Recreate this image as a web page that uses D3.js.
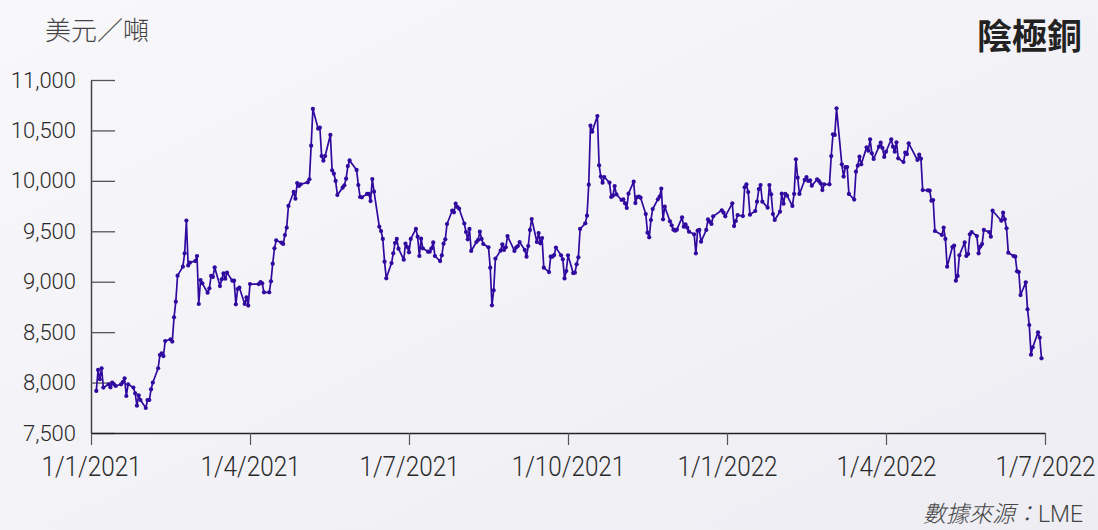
<!DOCTYPE html>
<html>
<head>
<meta charset="utf-8">
<script src="https://cdn.jsdelivr.net/npm/d3@7"></script>
<style>
  html, body { margin: 0; padding: 0; background: #f4f3f7; }
  svg { display: block; }
  .tick text { font-family: Roboto, "Liberation Sans", sans-serif; font-weight: 300; fill: #2a2a2a; }
  .cjk { font-family: "Noto Sans CJK TC", "Noto Sans CJK SC", sans-serif; }
</style>
</head>
<body>
<svg id="chart" width="1098" height="530"></svg>
<script>
// LME cathode copper, cash price (USD/tonne), one value per trading day from 4 Jan 2021
const prices = [
  7917, 8125, 8033, 8142, 7950, 7983, 7953, 8000, 7983, 7966, 7983, 8005, 8042, 7867, 7983, 7950, 7894, 7771, 7874, 7827,
  7748, 7827, 7827, 7933, 8000, 8142, 8273, 8290, 8263, 8412, 8429, 8406, 8647, 8802, 9060, 9149, 9282, 9606, 9162, 9189,
  9205, 9255, 8779, 9017, 8984, 8891, 8934, 9057, 9047, 9143, 8957, 9024, 9083, 9030, 9090, 9010, 9010, 8776, 8928, 8941,
  8779, 8845, 8763, 8977, 8977, 8997, 8984, 8895, 8895, 9004, 9179, 9331, 9410, 9387, 9374, 9463, 9536, 9751, 9890, 9823,
  9979, 9949, 9966, 9985, 10015, 10349, 10713, 10518, 10527, 10246, 10200, 10246, 10455, 10104, 10071, 9999, 9860, 9932, 9956, 10022,
  10147, 10203, 10108, 9959, 9840, 9837, 9870, 9870, 9800, 10018, 9893, 9546, 9503, 9424, 9199, 9034, 9185, 9281, 9384, 9424,
  9328, 9219, 9377, 9344, 9291, 9424, 9523, 9447, 9255, 9427, 9331, 9298, 9298, 9331, 9390, 9255, 9205, 9262, 9377, 9420,
  9572, 9704, 9688, 9774, 9741, 9724, 9576, 9493, 9420, 9523, 9305, 9394, 9414, 9496, 9424, 9374, 9341, 9139, 8766, 8915,
  9229, 9308, 9371, 9315, 9341, 9453, 9305, 9338, 9354, 9394, 9315, 9248, 9354, 9513, 9622, 9394, 9483, 9381, 9433, 9139,
  9096, 9248, 9248, 9265, 9338, 9262, 9222, 9033, 9106, 9262, 9086, 9090, 9172, 9242, 9523, 9579, 9655, 9962, 10547, 10488,
  10643, 10154, 10042, 9982, 10038, 9982, 9840, 9853, 9949, 9866, 9810, 9817, 9777, 9731, 9873, 9992, 9780, 9840, 9843, 9833,
  9671, 9486, 9440, 9612, 9721, 9817, 9843, 9923, 9619, 9744, 9599, 9559, 9516, 9506, 9516, 9638, 9546, 9569, 9536, 9496,
  9470, 9281, 9506, 9513, 9397, 9513, 9618, 9595, 9572, 9648, 9708, 9685, 9648, 9777, 9552, 9602, 9661, 9651, 9936, 9966,
  9889, 9665, 9701, 9794, 9919, 9959, 9794, 9734, 9959, 9866, 9671, 9612, 9694, 9873, 9774, 9870, 9853, 9751, 9870, 10213,
  10032, 9870, 10009, 10038, 9999, 10005, 9952, 10015, 9999, 9976, 9909, 9966, 9966, 10246, 10461, 10455, 10719, 10164, 10042, 10137,
  10137, 9870, 9814, 10091, 10151, 10240, 10164, 10332, 10299, 10412, 10273, 10217, 10339, 10379, 10326, 10237, 10289, 10412, 10339, 10289,
  10382, 10223, 10187, 10279, 10266, 10372, 10207, 10260, 10220, 9909, 9906, 9903, 9804, 9810, 9503, 9463, 9536, 9424, 9149, 9344,
  9357, 9010, 9057, 9262, 9390, 9255, 9275, 9470, 9493, 9453, 9281, 9348, 9374, 9513, 9493, 9447, 9704, 9605, 9685, 9619,
  9529, 9288, 9255, 9248, 9103, 9096, 8868, 8994, 8726, 8571, 8277, 8350, 8498, 8445, 8240
];

// LME closed days (UK bank holidays) in the period
const holidays = [
  '2021-04-02', '2021-04-05', '2021-05-03', '2021-05-31', '2021-08-30', '2021-12-27', '2021-12-28',
  '2022-01-03', '2022-04-15', '2022-04-18', '2022-05-02', '2022-06-02', '2022-06-03'
];

const tickDates = ['2021-01-01', '2021-04-01', '2021-07-01', '2021-10-01', '2022-01-01', '2022-04-01', '2022-07-01'];
const tickLabels = ['1/1/2021', '1/4/2021', '1/7/2021', '1/10/2021', '1/1/2022', '1/4/2022', '1/7/2022'];
const yTicks = [7500, 8000, 8500, 9000, 9500, 10000, 10500, 11000];

const parse = d3.utcParse('%Y-%m-%d');
const fmt = d3.utcFormat('%Y-%m-%d');

// trading-day calendar
const closed = new Set(holidays);
const days = d3.utcDays(parse('2021-01-04'), parse('2022-07-01'))
  .filter(d => d.getUTCDay() !== 0 && d.getUTCDay() !== 6 && !closed.has(fmt(d)));
const data = prices.map((v, i) => ({ date: days[i], value: v }));

const W = 1098, H = 530;
const plot = { left: 91, right: 1045, top: 80, bottom: 433 };
const ink = '#30099f';

const svg = d3.select('#chart');

// soft background
const defs = svg.append('defs');
const grad = defs.append('linearGradient').attr('id', 'bg').attr('x1', 0).attr('y1', 0).attr('x2', 1).attr('y2', 1);
grad.append('stop').attr('offset', '0%').attr('stop-color', '#f8f7fa');
grad.append('stop').attr('offset', '100%').attr('stop-color', '#eeedf3');
svg.append('rect').attr('width', W).attr('height', H).attr('fill', 'url(#bg)');

// quarters are drawn evenly spaced, so the time scale is piecewise
const x = d3.scaleUtc()
  .domain(tickDates.map(parse))
  .range(tickDates.map((d, i) => plot.left + (plot.right - plot.left) * i / (tickDates.length - 1)));

const y = d3.scaleLinear().domain([7500, 11000]).range([plot.bottom, plot.top]);

// y axis: ticks point inward
const yAxis = svg.append('g')
  .attr('transform', `translate(${plot.left},0)`)
  .call(d3.axisLeft(y).tickValues(yTicks).tickFormat(d3.format(',')).tickSizeInner(-24).tickSizeOuter(0).tickPadding(15));
yAxis.select('.domain').attr('stroke', '#444').attr('stroke-width', 1.5);
yAxis.selectAll('.tick line').attr('stroke', '#555').attr('stroke-width', 1.3);
yAxis.selectAll('.tick text').attr('font-size', 22);

// x axis (labels drawn a little condensed, as in the original)
const xAxis = svg.append('g')
  .attr('transform', `translate(0,${plot.bottom})`)
  .call(d3.axisBottom(x).tickValues(tickDates.map(parse)).tickFormat((d, i) => tickLabels[i]).tickSizeInner(12).tickSizeOuter(0).tickPadding(12));
xAxis.select('.domain').attr('stroke', '#222').attr('stroke-width', 1.6);
xAxis.selectAll('.tick line').attr('stroke', '#555').attr('stroke-width', 1.2);
xAxis.selectAll('.tick text').attr('font-size', 27).attr('transform', 'scale(0.9,1)');

// price line with markers
const line = d3.line().x(d => x(d.date)).y(d => y(d.value));
svg.append('path')
  .datum(data)
  .attr('fill', 'none')
  .attr('stroke', ink)
  .attr('stroke-width', 1.7)
  .attr('stroke-linejoin', 'round')
  .attr('d', line);

svg.append('g')
  .selectAll('circle')
  .data(data)
  .join('circle')
  .attr('cx', d => x(d.date))
  .attr('cy', d => y(d.value))
  .attr('r', 2.1)
  .attr('fill', ink);

// texts
svg.append('text')
  .attr('class', 'cjk')
  .attr('x', 45).attr('y', 40)
  .attr('font-size', 26).attr('font-weight', 300).attr('fill', '#444')
  .text('美元／噸');

svg.append('text')
  .attr('class', 'cjk')
  .attr('x', 1082).attr('y', 49)
  .attr('text-anchor', 'end')
  .attr('font-size', 35).attr('font-weight', 700).attr('fill', '#222')
  .text('陰極銅');

const source = svg.append('text')
  .attr('class', 'cjk')
  .attr('x', 1083).attr('y', 522)
  .attr('text-anchor', 'end')
  .attr('font-size', 23).attr('font-weight', 300).attr('fill', '#444');
source.append('tspan').attr('font-style', 'italic').text('數據來源：');
source.append('tspan').attr('font-family', 'Roboto, sans-serif').text('LME');
</script>
</body>
</html>
